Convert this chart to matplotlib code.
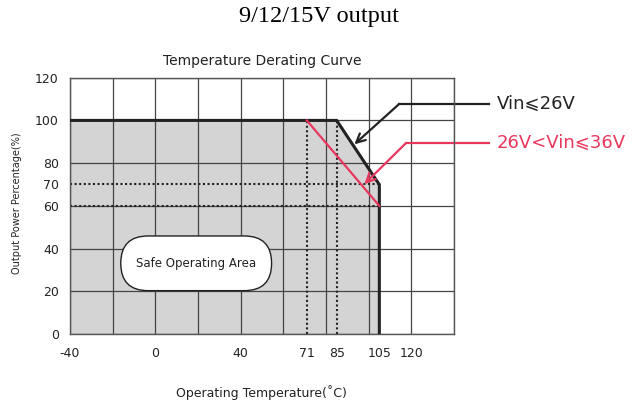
import matplotlib.pyplot as plt
from matplotlib.patches import FancyBboxPatch

# grid and tick values
grid_x = [-40, -20, 0, 20, 40, 60, 80, 100, 120, 140]
grid_y = [0, 20, 40, 60, 80, 100, 120]
x_ticks = [-40, 0, 40, 71, 85, 105, 120]
y_ticks = [0, 20, 40, 60, 70, 80, 100, 120]

# Vin <= 26V derating curve (black)
low_temp = [-40, 85, 103.6, 105, 105]
low_power = [100, 100, 72, 70, 0]

# 26V < Vin <= 36V derating curve (red)
high_temp = [71, 105]
high_power = [100, 60]

# dotted guide lines
guide_power = [70, 60]
guide_temp = [71, 85]

labels = ['Vin⩽26V', '26V<Vin⩽36V']
RED = '#e8375c'

fig = plt.figure(figsize=(6.38, 4.03), dpi=100)
ax = fig.add_axes([0.1097, 0.1712, 0.6019, 0.636])
ax.set_xlim(-40, 140)
ax.set_ylim(0, 120)

# safe area fill
ax.fill(low_temp + [-40], low_power + [0], color='#d4d4d4', zorder=0, lw=0)

for gx in grid_x:
  ax.axvline(gx, color='#444444', lw=0.9, zorder=1)
for gy in grid_y:
  ax.axhline(gy, color='#444444', lw=0.9, zorder=1)

for p in guide_power:
  ax.plot([-40, 105], [p, p], color='#222222', lw=1.5, ls=(0, (1, 1.2)), zorder=2)
for t in guide_temp:
  ax.plot([t, t], [0, 100], color='#222222', lw=1.5, ls=(0, (1, 1.2)), zorder=2)

ax.plot(low_temp, low_power, color='#222222', lw=2.2, zorder=3, solid_joinstyle='miter')
ax.plot(high_temp, high_power, color=RED, lw=1.6, zorder=3)

box = FancyBboxPatch((-16.2, 20.3), 70.7, 25.6, boxstyle='round,pad=0,rounding_size=12.8',
                     facecolor='white', edgecolor='#222222', lw=1.0, zorder=4)
ax.add_patch(box)
ax.text(19, 33, 'Safe Operating Area', ha='center', va='center', fontsize=8.5, color='#222222', zorder=5)

# callouts
fam = ['DejaVu Sans', 'Noto Sans CJK SC']
ax.plot([156.4, 114.3], [107.7, 107.7], color='#222222', lw=1.6, clip_on=False)
ax.annotate('', xy=(93.3, 88.8), xytext=(114.3, 107.7),
            arrowprops=dict(arrowstyle='->', color='#222222', lw=1.6, mutation_scale=16,
                            shrinkA=0, shrinkB=0), annotation_clip=False)
ax.text(160, 107.7, labels[0], ha='left', va='center', fontsize=13, color='#222222',
        family=fam, clip_on=False)

ax.plot([156.4, 117.5], [89.4, 89.4], color=RED, lw=1.6, clip_on=False)
ax.annotate('', xy=(98, 70.2), xytext=(117.5, 89.4),
            arrowprops=dict(arrowstyle='->', color=RED, lw=1.6, mutation_scale=16,
                            shrinkA=0, shrinkB=0), annotation_clip=False)
ax.text(160, 89.4, labels[1], ha='left', va='center', fontsize=13, color=RED,
        family=fam, clip_on=False)

ax.set_xticks(x_ticks)
ax.set_xticklabels([str(t) for t in x_ticks])
ax.set_yticks(y_ticks)
ax.set_yticklabels([str(t) for t in y_ticks])
ax.tick_params(length=0, labelsize=9, colors='#222222', pad=9)
ax.tick_params(axis='y', pad=8)
for s in ax.spines.values():
  s.set_color('#555555')
  s.set_linewidth(1.0)

ax.set_title('Temperature Derating Curve', fontsize=10, color='#222222', pad=9)
fig.text(0.027, 0.496, 'Output Power Percentage(%)', rotation=90, ha='center', va='center',
         fontsize=7, color='#222222')
fig.text(0.41, 0.025, 'Operating Temperature(˚C)', ha='center', va='center',
         fontsize=9, color='#222222')
fig.text(0.5, 0.958, '9/12/15V output', ha='center', va='center', fontsize=17.5,
         family='Liberation Serif', color='black')

fig.savefig('out.png', dpi=100)
